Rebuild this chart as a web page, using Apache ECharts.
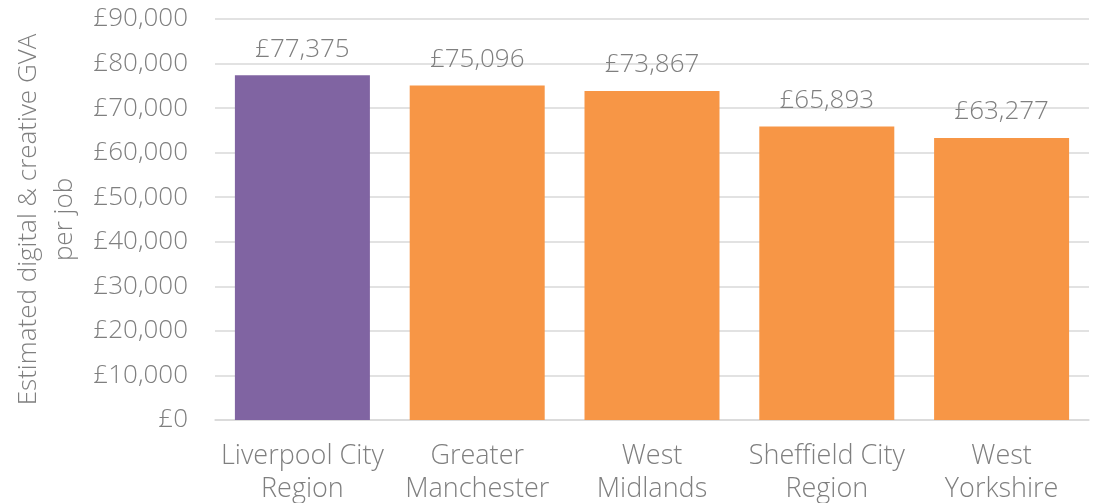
<!DOCTYPE html>
<html>
<head>
<meta charset="utf-8">
<script src="https://cdn.jsdelivr.net/npm/echarts@6/dist/echarts.min.js"></script>
<style>
  html, body { margin: 0; padding: 0; background: #fff; }
  #chart { width: 1107px; height: 503px; }
</style>
</head>
<body>
<div id="chart"></div>
<script>
// Digital & creative GVA per job by city region
const regions = ['Liverpool City\nRegion', 'Greater\nManchester', 'West\nMidlands', 'Sheffield City\nRegion', 'West\nYorkshire'];
const gvaPerJob = [77375, 75096, 73867, 65893, 63277];
const barColors = ['#8064A2', '#F79646', '#F79646', '#F79646', '#F79646'];
const axisMax = 90000;
const axisStep = 10000;
const axisTitle = 'Estimated digital & creative GVA\nper job';

const textColor = '#7F7F7F';
const fontFamily = '"Open Sans", Lato, sans-serif';
const fontWeight = 300;
const fmt = v => '£' + v.toLocaleString('en-GB');

const chart = echarts.init(document.getElementById('chart'));
chart.setOption({
  animation: false,
  grid: { left: 215, right: 18, top: 19, bottom: 83, outerBoundsMode: 'none' },
  xAxis: {
    type: 'category',
    data: regions,
    axisTick: { show: false },
    axisLine: { lineStyle: { color: '#D9D9D9', width: 1.5 } },
    axisLabel: { color: textColor, fontSize: 27, fontFamily, fontWeight, lineHeight: 33, margin: 20, interval: 0 }
  },
  yAxis: {
    type: 'value',
    min: 0,
    max: axisMax,
    interval: axisStep,
    name: axisTitle,
    nameLocation: 'middle',
    nameGap: 125,
    nameTextStyle: { color: textColor, fontSize: 26, fontFamily, fontWeight, lineHeight: 36 },
    axisLine: { show: false },
    axisTick: { show: false },
    splitLine: { lineStyle: { color: '#D9D9D9', width: 1.5 } },
    axisLabel: { color: textColor, fontSize: 26, fontFamily, fontWeight, margin: 27, formatter: fmt }
  },
  series: [{
    type: 'bar',
    barWidth: 135,
    data: gvaPerJob.map((v, i) => ({ value: v, itemStyle: { color: barColors[i] } })),
    label: {
      show: true,
      position: 'top',
      distance: 13,
      color: textColor,
      fontSize: 26,
      fontFamily,
      fontWeight,
      formatter: p => fmt(p.value)
    }
  }]
});
</script>
</body>
</html>
